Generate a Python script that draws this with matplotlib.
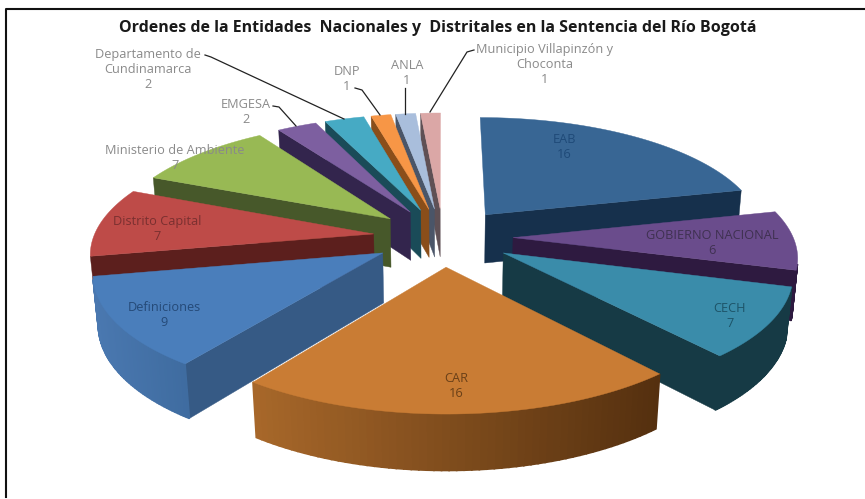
import numpy as np
import matplotlib
matplotlib.use('Agg')
import matplotlib.pyplot as plt
from matplotlib.colors import to_rgb

# data, in pie order (clockwise from 12 o'clock)
names = ['EAB', 'GOBIERNO NACIONAL', 'CECH', 'CAR', 'Definiciones', 'Distrito Capital',
         'Ministerio de Ambiente', 'EMGESA', 'Departamento de\nCundinamarca', 'DNP', 'ANLA',
         'Municipio Villapinzón y\nChoconta']
values = [16, 6, 7, 16, 9, 7, 7, 2, 2, 1, 1, 1]
title = 'Ordenes de la Entidades  Nacionales y  Distritales en la Sentencia del Río Bogotá'

top_colors = ['#386694', '#6A4C8C', '#3A8CAA', '#C97C34', '#4A7EBB', '#BE4B48',
              '#98B954', '#7D5FA0', '#46AAC4', '#F79646', '#A9BEDC', '#DBA7A6']
wall_colors = ['#16304C', '#2E1A40', '#163A45', '#55300F', '#365A85', '#5C1F1D',
               '#47582A', '#33254D', '#1A4B58', '#8A4E1A', '#4A5568', '#5F5055']
# outer wall shading, left to right on screen
arc_left = ['#16304C', '#2E1A40', '#163A45', '#A8682A', '#4A78B0', '#5C1F1D',
            '#47582A', '#33254D', '#1A4B58', '#8A4E1A', '#4A5568', '#5F5055']
arc_right = ['#16304C', '#2E1A40', '#163A45', '#55300F', '#3F6CA0', '#5C1F1D',
             '#47582A', '#33254D', '#1A4B58', '#8A4E1A', '#4A5568', '#5F5055']
label_colors = ['#1F4A78', '#3F3151', '#1D5468', '#6A4018', '#254A78', '#7A3030',
                '#8A8A8A', '#8A8A8A', '#8A8A8A', '#8A8A8A', '#8A8A8A', '#8A8A8A']
# label centres in pixels
label_pos = [(564, 147), (712, 243), (730, 316), (456, 386), (164, 315), (157, 229),
             (175, 158), (246, 112), (148, 69), (347, 79), (407, 73), (545, 64)]

# leader lines for the outside labels
leaders = [[(273, 106), (279, 107), (296, 126)],
           [(205, 55), (211, 57), (344, 119)],
           [(355, 88), (362, 90), (380, 115)],
           [(405, 88), (405, 114)],
           [(474, 50), (467, 52), (430, 112)]]

# fake 3d pie camera, fitted to the picture
cx, cy = 443, 237
R = 280
A = 116.7
k = 0.141
H = 50
shrink = 0.015
explode = 0.25


def project(X, Y, bottom=False):
    w = 1 + k * Y + (shrink if bottom else 0)
    sx = cx + R * X / w
    sy = cy - A * Y / w + (H / w if bottom else 0)
    return sx, sy


def mix(c1, c2, t):
    a, b = np.array(to_rgb(c1)), np.array(to_rgb(c2))
    return tuple(a + (b - a) * t)


def is_front(p1, p2, p3, p4, limit=0):
    pts = [p1, p2, p3, p4]
    area = 0
    for i in range(4):
        x1, y1 = pts[i]
        x2, y2 = pts[(i + 1) % 4]
        area += x1 * y2 - x2 * y1
    return area < limit


fig = plt.figure(figsize=(8.65, 4.99), dpi=100)
ax = fig.add_axes([0, 0, 1, 1])
ax.set_xlim(0, 865)
ax.set_ylim(499, 0)
ax.axis('off')

# slice angles from the values
fractions = np.array(values) / sum(values)
starts = 90 - 360 * np.concatenate([[0], np.cumsum(fractions)[:-1]])
ends = starts - 360 * fractions

# back slices first, CAR last
order = [11, 10, 9, 8, 7, 6, 5, 4, 0, 1, 2, 3]
for i in order:
    mid = np.radians((starts[i] + ends[i]) / 2)
    ax0, ay0 = explode * np.cos(mid), explode * np.sin(mid)
    th = np.radians(np.linspace(starts[i], ends[i], 60))
    X = np.concatenate([[ax0], ax0 + np.cos(th), [ax0]])
    Y = np.concatenate([[ay0], ay0 + np.sin(th), [ay0]])
    tx, ty = project(X, Y)
    bx, by = project(X, Y, bottom=True)

    # walls: radial cuts first, then the outer arc
    for j in [0, len(X) - 2]:
        q = [(tx[j], ty[j]), (tx[j + 1], ty[j + 1]), (bx[j + 1], by[j + 1]), (bx[j], by[j])]
        # -700 drops the thin sliver on the left of EAB
        if is_front(*q, limit=-700):
            ax.fill([p[0] for p in q], [p[1] for p in q], color=wall_colors[i], lw=0.3)
    xmin, xmax = tx[1:-1].min(), tx[1:-1].max()
    for j in range(1, len(X) - 2):
        q = [(tx[j], ty[j]), (tx[j + 1], ty[j + 1]), (bx[j + 1], by[j + 1]), (bx[j], by[j])]
        if is_front(*q):
            t = (tx[j] - xmin) / max(xmax - xmin, 1)
            # lw closes the gaps between the strips
            ax.fill([p[0] for p in q], [p[1] for p in q], color=mix(arc_left[i], arc_right[i], t), lw=1.2)
    ax.fill(tx, ty, color=top_colors[i], lw=0.3)

ax.text(438, 28, title, ha='center', va='center', family='Open Sans', fontweight='bold',
        fontsize=11.5, color='#1a1a1a')

for i in range(len(names)):
    ax.text(label_pos[i][0], label_pos[i][1], names[i] + '\n' + str(values[i]), ha='center', va='center',
            family='Open Sans', fontsize=9.2, color=label_colors[i], linespacing=1.2)

for line in leaders:
    ax.plot([p[0] for p in line], [p[1] for p in line], color='#222222', lw=0.9)

# screenshot frame
ax.plot([6, 6, 865], [497, 9, 9], color='#111111', lw=1.5)

fig.savefig('out.png', dpi=100)
